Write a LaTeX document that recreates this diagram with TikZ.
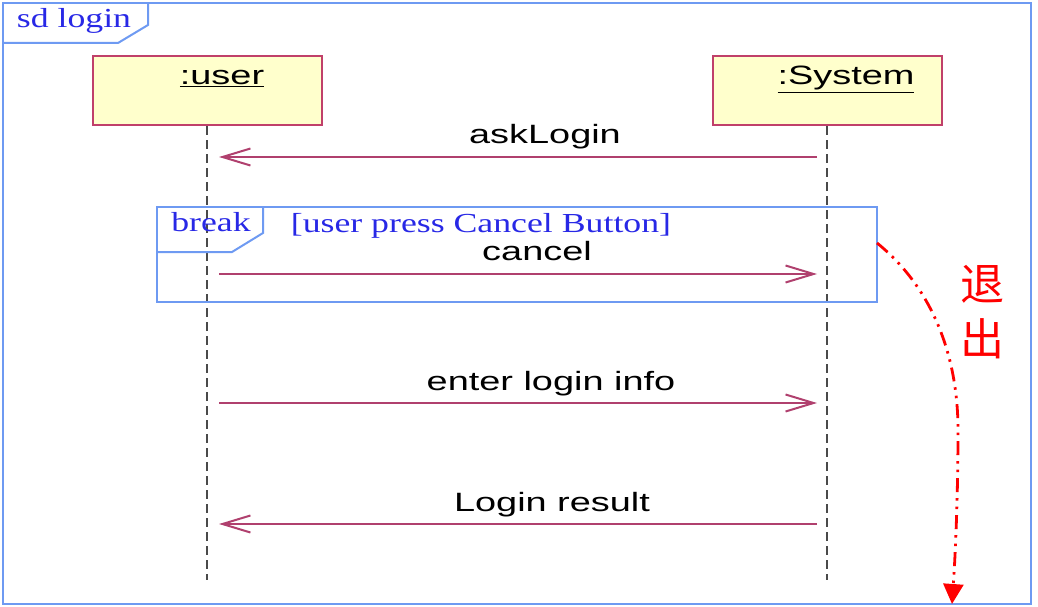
\documentclass[tikz,border=0pt]{standalone}
\usepackage{fontspec}
\setmainfont{Liberation Serif}
\newfontfamily\lblfont[FakeStretch=1.43]{Liberation Sans}
\newfontfamily\serfont[FakeStretch=1.3]{Liberation Serif}
\newfontfamily\cjkfont{Noto Sans CJK SC}
\usetikzlibrary{arrows.meta}
\definecolor{framebl}{HTML}{6E9AF2}
\definecolor{textbl}{HTML}{2828E6}
\definecolor{boxfill}{HTML}{FFFFCC}
\definecolor{boxline}{HTML}{C0406A}
\definecolor{msgcol}{HTML}{B0406E}
\definecolor{lifegray}{HTML}{4A4A4A}
\tikzset{
  frameline/.style={draw=framebl, line width=2pt},
  lifebox/.style={draw=boxline, fill=boxfill, line width=2pt, minimum width=229pt, minimum height=69pt, inner sep=0pt},
  lifetext/.style={anchor=base, inner sep=0pt, font=\lblfont\fontsize{26.5}{30}\selectfont},
  lifeline/.style={draw=lifegray, line width=2.6pt, dash pattern=on 9pt off 5pt},
  msg/.style={draw=msgcol, line width=2pt, -{Straight Barb[length=28pt,width=17pt,line width=2pt]}},
  msglabel/.style={anchor=base, inner sep=0pt, font=\lblfont\fontsize{26.5}{30}\selectfont},
  tabtext/.style={anchor=base, inner sep=0pt, text=textbl, font=\serfont\fontsize{27.5}{30}\selectfont},
  exitpath/.style={draw=red, line width=2.8pt, dash pattern=on 14pt off 6pt on 2.5pt off 6pt on 2.5pt off 6pt, -{Triangle[length=20pt,width=20pt]}},
  exittext/.style={inner sep=0pt, text=red, font=\cjkfont\fontsize{44}{48}\selectfont}
}
\begin{document}
\begin{tikzpicture}[x=1pt,y=-1pt]
\useasboundingbox (0,0) rectangle (1038,607);
% outer frame
\draw[frameline] (3,3) rectangle (1031,604);
\draw[frameline] (3,43) -- (118,43) -- (148,25) -- (148,3);
\node[tabtext] (sdtitle) at (74,28) {sd login};
% lifeline heads
\node[lifebox] (user) at (207,90.5) {};
\node[lifebox] (sys) at (827,90.5) {};
\node[lifetext] (usertext) at (222,85) {\underline{:user}};
\node[lifetext] (systext) at (846,85) {\underline{:System}};
\coordinate (userend) at (207,580);
\coordinate (sysend) at (827,580);
\draw[lifeline] (user.south) -- (userend);
\draw[lifeline] (sys.south) -- (sysend);
% break fragment
\draw[frameline] (157,207) rectangle (877,302);
\draw[frameline] (157,252) -- (232,252) -- (263,233) -- (263,207);
\node[tabtext] (breaktext) at (211,231) {break};
\node[tabtext] (guard) at (481,232) {[user press Cancel Button]};
% message endpoints
\coordinate (a1) at (817,157); \coordinate (a2) at (219,157);
\coordinate (b1) at (219,274); \coordinate (b2) at (817,274);
\coordinate (c1) at (219,403); \coordinate (c2) at (817,403);
\coordinate (d1) at (817,524); \coordinate (d2) at (219,524);
\draw[msg] (a1) -- (a2);
\draw[msg] (b1) -- (b2);
\draw[msg] (c1) -- (c2);
\draw[msg] (d1) -- (d2);
\node[msglabel] (la) at (545,143) {askLogin};
\node[msglabel] (lb) at (537,260) {cancel};
\node[msglabel] (lc) at (551,390) {enter login info};
\node[msglabel] (ld) at (552,511) {Login result};
% exit arrow
\coordinate (ex1) at (877,243);
\coordinate (ex2) at (952,604);
\draw[exitpath] (ex1) .. controls (935,290) and (958,360) .. (958,430) .. controls (958,500) and (955,560) .. (ex2);
\node[exittext] (t1) at (982,284) {退};
\node[exittext] (t2) at (982,339) {出};
\end{tikzpicture}
\end{document}
